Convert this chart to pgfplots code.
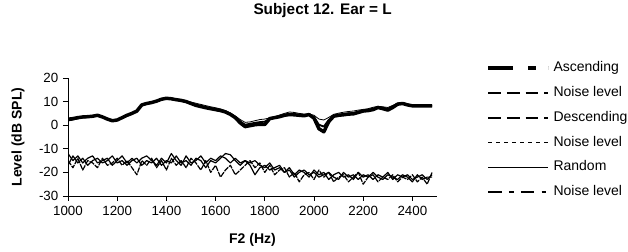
\documentclass[border=0pt]{standalone}
\usepackage{fontspec}
\setmainfont{Liberation Sans}
\usepackage{pgfplots}
\usepackage{pgfplotstable}
\pgfplotsset{compat=1.18}
\pgfplotstableread{
f asc desc rnd n1 n2 n3
1000 2.5 2.0 3.0 -17 -15 -12
1020 2.8 2.4 3.2 -13 -18 -15
1040 3.2 2.9 3.4 -16 -14 -13
1060 3.5 3.3 3.6 -14 -19 -16
1080 3.6 3.4 3.8 -17 -15 -14
1100 3.8 3.7 4.0 -15 -16 -13
1120 4.2 4.0 4.3 -14 -18 -16
1140 3.5 3.4 3.7 -16 -14 -15
1160 2.6 2.5 2.8 -15 -17 -14
1180 1.9 1.8 2.1 -13 -16 -17
1200 2.2 2.2 2.4 -16 -14 -15
1220 3.2 3.1 3.3 -15 -17 -13
1240 4.2 4.0 4.4 -17 -15 -16
1260 5.0 4.9 5.2 -15 -18 -14
1280 6.0 6.0 6.3 -14 -21 -16
1300 8.6 8.4 8.7 -17 -15 -14
1320 9.2 9.1 9.4 -15 -17 -13
1340 9.6 9.6 9.8 -16 -14 -15
1360 10.2 10.1 10.4 -14 -18 -17
1380 11.0 10.9 11.1 -17 -15 -14
1400 11.4 11.3 11.5 -15 -19 -16
1420 11.2 11.1 11.3 -16 -14 -12
1440 10.8 10.8 11.0 -13 -17 -15
1460 10.5 10.4 10.8 -16 -15 -17
1480 10.0 10.0 10.4 -15 -18 -13
1500 9.2 9.3 9.8 -17 -14 -16
1520 8.4 8.6 9.3 -14 -16 -15
1540 7.9 8.1 8.8 -15 -19 -13
1560 7.4 7.6 8.3 -18 -15 -16
1580 7.0 7.2 7.8 -15 -20 -14
1600 6.6 6.8 7.4 -16 -17 -15
1620 6.2 6.3 6.9 -14 -22 -13
1640 5.6 5.8 6.2 -12 -19 -14
1660 4.6 4.8 5.2 -12.5 -17 -16
1680 3.2 3.5 3.9 -15 -21 -14
1700 1.0 1.6 2.4 -17 -19 -16
1720 -0.6 0.2 1.2 -15 -17 -15
1740 -0.2 0.6 1.4 -16 -15 -17
1760 0.2 1.0 1.9 -15 -18 -21
1780 0.4 1.3 2.4 -17 -16 -18
1800 0.3 1.5 2.6 -18 -20 -17
1820 2.8 2.6 3.1 -16 -17 -19
1840 3.2 3.1 3.6 -19 -21 -18
1860 3.6 3.6 4.3 -18 -19 -17
1880 4.2 4.3 5.0 -20 -18 -20
1900 4.5 4.7 5.6 -18 -22 -19
1920 4.4 4.6 5.4 -21 -20 -22
1940 4.2 4.4 5.0 -19 -24 -20
1960 4.0 4.3 4.7 -20 -21 -19
1980 4.5 4.6 4.8 -22 -20 -21
2000 3.0 3.4 4.2 -19 -23 -20
2020 -1.5 0.2 2.6 -21 -19 -22
2040 -2.8 -0.6 2.2 -20 -22 -21
2060 1.5 2.2 3.3 -23 -20 -20
2080 3.8 4.0 4.6 -21 -24 -22
2100 4.2 4.4 5.1 -20 -22 -23
2120 4.4 4.7 5.5 -22 -21 -20
2140 4.7 5.0 5.8 -21 -24 -22
2160 4.8 5.2 6.0 -23 -22 -21
2180 5.4 5.7 6.4 -20 -20 -23
2200 6.0 6.2 6.7 -22 -25 -21
2220 6.2 6.5 7.0 -21 -22 -22
2240 6.6 6.9 7.6 -23 -21 -20
2260 7.5 7.6 8.0 -21 -24 -22
2280 7.0 7.4 7.8 -22 -22 -23
2300 6.4 6.9 7.5 -20 -23 -21
2320 7.5 7.9 8.4 -23 -21 -22
2340 8.9 9.1 9.4 -21 -24 -23
2360 9.2 9.4 9.6 -22 -22 -21
2380 8.6 8.8 9.0 -21 -23 -22
2400 8.2 8.3 8.5 -23 -21 -24
2420 8.2 8.2 8.3 -22 -24 -21
2440 8.2 8.2 8.2 -21 -22 -23
2460 8.2 8.2 8.2 -23 -25 -22
2480 8.2 8.2 8.2 -21 -20 -22
}\datatable
\begin{document}
\begin{tikzpicture}
\path[use as bounding box] (0pt,0pt) rectangle (471pt,-189pt);
\begin{axis}[
  at={(51pt,-147pt)}, anchor=south west,
  scale only axis, width=276.75pt, height=88.5pt,
  xmin=1000, xmax=2500, ymin=-30, ymax=20,
  xtick={1000,1200,...,2400}, ytick={-30,-20,...,20},
  axis x line=bottom, axis y line=left,
  axis line style={-, line width=0.6pt},
  tick align=outside, major tick length=3.75pt,
  tick style={line width=0.6pt, black},
  /pgf/number format/assume math mode=true,
  /pgf/number format/1000 sep={},
  ticklabel style={font=\fontsize{10}{12}\selectfont},
  xlabel={F2 (Hz)}, ylabel={Level (dB SPL)},
  xlabel style={font=\bfseries\fontsize{10.5}{12}\selectfont, at={(axis description cs:0.5,-0.37)}, anchor=center},
  ylabel style={font=\bfseries\fontsize{10.5}{12}\selectfont, at={(axis description cs:-0.1355,0.5)}, anchor=center, rotate=0},
  title={Subject 12. Ear = L},
  title style={font=\bfseries\fontsize{11.5}{13}\selectfont, at={(axis description cs:0.69,1.50)}, anchor=center},
  legend cell align=left,
  legend style={draw=none, fill=none, inner sep=0pt, outer sep=0pt,
    at={(axis description cs:1.134,1.138)}, anchor=north west,
    font=\fontsize{10.5}{12}\selectfont,
    nodes={inner sep=0pt, text height=7.5pt, text depth=2pt},
    row sep=9.1pt, column sep=2.5pt},
]
\addplot[black, line width=2.6pt, line join=round,
  legend image code/.code={\draw[black, line width=2.8pt, dash pattern=on 18.75pt off 11.25pt on 6pt off 9pt] (0pt,0pt)--(45pt,0pt);}]
  table[x=f, y=asc] {\datatable};
\addlegendentry{Ascending}
\addplot[black, line width=0.9pt, line join=round,
  legend image code/.code={\draw[black, line width=1.1pt, dash pattern=on 9.5pt off 4.5pt] (0pt,0pt)--(45pt,0pt);}]
  table[x=f, y=n1] {\datatable};
\addlegendentry{Noise level}
\addplot[black, line width=1.4pt, line join=round,
  legend image code/.code={\draw[black, line width=1.4pt, dash pattern=on 9.5pt off 4.5pt] (0pt,0pt)--(45pt,0pt);}]
  table[x=f, y=desc] {\datatable};
\addlegendentry{Descending}
\addplot[black, line width=0.9pt, line join=round, dash pattern=on 4pt off 0.8pt,
  legend image code/.code={\draw[black, line width=1.1pt, dash pattern=on 3pt off 3pt] (0pt,0pt)--(45pt,0pt);}]
  table[x=f, y=n2] {\datatable};
\addlegendentry{Noise level}
\addplot[black, line width=0.6pt, line join=round,
  legend image code/.code={\draw[black, line width=0.7pt] (0pt,0pt)--(45pt,0pt);}]
  table[x=f, y=rnd] {\datatable};
\addlegendentry{Random}
\addplot[black, line width=0.9pt, line join=round,
  legend image code/.code={\draw[black, line width=1.1pt, dash pattern=on 10pt off 5.5pt on 3.5pt off 5.5pt] (0pt,0pt)--(45pt,0pt);}]
  table[x=f, y=n3] {\datatable};
\addlegendentry{Noise level}
\end{axis}
\end{tikzpicture}
\end{document}
